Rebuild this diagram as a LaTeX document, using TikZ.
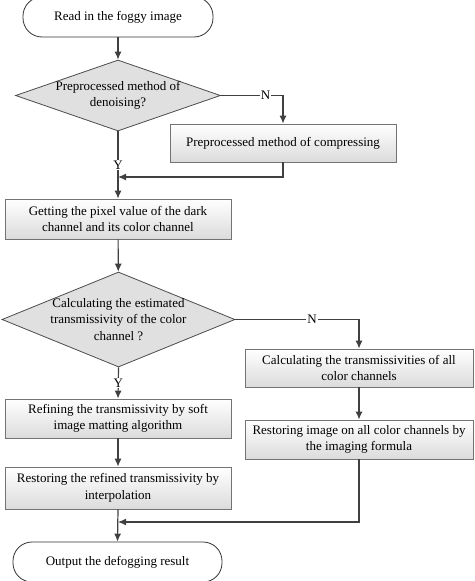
\documentclass[tikz,border=0pt]{standalone}
\usepackage{fontspec}
\setmainfont{Liberation Serif}
\usepackage{tikz}
\usetikzlibrary{shapes.geometric,arrows.meta,shadows}

\begin{document}
\begin{tikzpicture}[x=1pt,y=-1pt,
    every node/.style={font=\fontsize{13}{16.5}\selectfont, align=center},
    terminal/.style={draw=black!80, rounded corners=19pt, fill=white, line width=0.8pt},
    stepbox/.style={draw=black!55, line width=0.8pt, top color=white, bottom color=black!14, inner sep=0pt,
        drop shadow={shadow xshift=1.2pt, shadow yshift=-1.2pt, fill=black!35, opacity=0.5}},
    decide/.style={diamond, draw=black!70, fill=black!12, line width=0.8pt, inner sep=-6pt},
    link/.style={draw=black!75, line width=1.2pt, -{Latex[length=8pt,width=7pt]}},
    yn/.style={fill=white, inner sep=1pt}]
   \useasboundingbox (0,0) rectangle (474,581);

   % left column
   \node[terminal, minimum width=190pt, minimum height=40pt] (read) at (118,17) {Read in the foggy image};
   \node[decide, aspect=2.887, minimum width=205pt, minimum height=71pt] (denoise) at (118,95.5) {Preprocessed method of\\denoising?};
   \node[stepbox, minimum width=226pt, minimum height=38pt] (compress) at (283,143) {Preprocessed method of compressing};
   \node[stepbox, minimum width=226pt, minimum height=40pt] (dark) at (118,219) {Getting the pixel value of the dark\\channel and its color channel};
   \node[decide, aspect=2.453, minimum width=233pt, minimum height=95pt] (estim) at (118.5,319.5) {Calculating the estimated\\transmissivity of the color\\channel ?};
   \node[stepbox, minimum width=226pt, minimum height=39pt] (refine) at (118,418.5) {Refining the transmissivity by soft\\image matting algorithm};
   \node[stepbox, minimum width=226pt, minimum height=42pt] (interp) at (118,488) {Restoring the refined transmissivity by\\interpolation};
   \node[terminal, minimum width=209pt, minimum height=40pt] (output) at (117.5,562) {Output the defogging result};

   % right column
   \node[stepbox, minimum width=228pt, minimum height=38pt] (allch) at (359,368) {Calculating the transmissivities of all\\color channels};
   \node[stepbox, minimum width=228pt, minimum height=39pt] (formula) at (359,439.5) {Restoring image on all color channels by\\the imaging formula};

   \coordinate (join1) at (118,177);
   \coordinate (join2) at (118,522);

   \draw[link] (read) -- (denoise);
   \draw[link] (denoise.east) -| node[yn, pos=0.36] {N} (compress.north);
   \draw[link] (denoise.south) -- node[yn, pos=0.5] {Y} (dark.north);
   \draw[link] (compress.south) |- (join1);
   \draw[link] (dark) -- (estim);
   \draw[link] (estim.east) -| node[yn, pos=0.31] {N} (allch.north);
   \draw[link] (estim.south) -- node[yn, pos=0.5] {Y} (refine.north);
   \draw[link] (refine) -- (interp);
   \draw[link] (allch) -- (formula);
   \draw[link] (formula.south) |- (join2);
   \draw[link] (interp.south) -- (output.north);
\end{tikzpicture}
\end{document}
